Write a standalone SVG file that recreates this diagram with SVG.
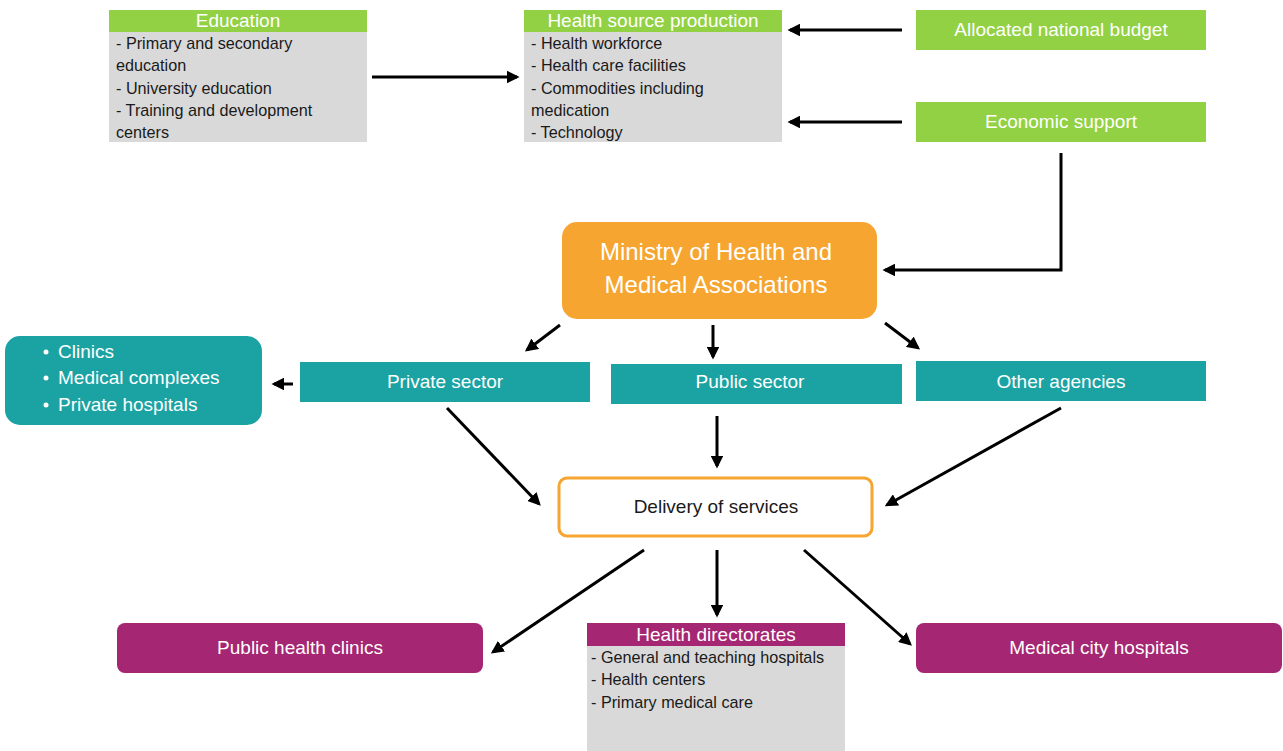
<svg xmlns="http://www.w3.org/2000/svg" width="1283" height="751" viewBox="0 0 1283 751">
<style>
text{font-family:"Liberation Sans",Arial,sans-serif}
.hd{fill:#fff;font-size:19px;text-anchor:middle}
.bd{fill:#1a1a1a;font-size:16.2px}
.wt{fill:#fff;font-size:19px;text-anchor:middle}
.green{fill:#92D143}
.gray{fill:#D9D9D9}
.teal{fill:#1BA3A3}
.mag{fill:#A52673}
.conn{stroke:#000;stroke-width:3;fill:none;marker-end:url(#ah)}
</style>
<defs>
<marker id="ah" viewBox="0 0 10 10" refX="8" refY="5" markerWidth="4.3" markerHeight="4.3" orient="auto" markerUnits="strokeWidth">
<path d="M0,0 L10,5 L0,10 z" fill="#000"/>
</marker>
</defs>
<rect width="1283" height="751" fill="#fff"/>

<g id="education">
<rect class="gray" x="109" y="32" width="258" height="110"/>
<rect class="green" x="109" y="10" width="258" height="22"/>
<text class="hd" x="238" y="27">Education</text>
<text class="bd" x="116" y="49">- Primary and secondary</text>
<text class="bd" x="116" y="71">education</text>
<text class="bd" x="116" y="94">- University education</text>
<text class="bd" x="116" y="116">- Training and development</text>
<text class="bd" x="116" y="138">centers</text>
</g>

<g id="health-source">
<rect class="gray" x="524" y="32" width="258" height="110"/>
<rect class="green" x="524" y="10" width="258" height="22"/>
<text class="hd" x="653" y="27">Health source production</text>
<text class="bd" x="531" y="49">- Health workforce</text>
<text class="bd" x="531" y="71">- Health care facilities</text>
<text class="bd" x="531" y="94">- Commodities including</text>
<text class="bd" x="531" y="116">medication</text>
<text class="bd" x="531" y="138">- Technology</text>
</g>

<g id="budget">
<rect class="green" x="916" y="10" width="290" height="40"/>
<text class="wt" x="1061" y="36">Allocated national budget</text>
</g>

<g id="economic">
<rect class="green" x="916" y="102" width="290" height="40"/>
<text class="wt" x="1061" y="128">Economic support</text>
</g>

<g id="ministry">
<rect x="562" y="222" width="315" height="97" rx="15" fill="#F6A531"/>
<text class="wt" style="font-size:24px" x="716" y="260">Ministry of Health and</text>
<text class="wt" style="font-size:24px" x="716" y="293">Medical Associations</text>
</g>

<g id="private-list">
<rect class="teal" x="5" y="336" width="257" height="89" rx="15"/>
<circle cx="46" cy="352" r="2.5" fill="#fff"/>
<circle cx="46" cy="378" r="2.5" fill="#fff"/>
<circle cx="46" cy="405" r="2.5" fill="#fff"/>
<text fill="#fff" font-size="19" x="58" y="358">Clinics</text>
<text fill="#fff" font-size="19" x="58" y="384">Medical complexes</text>
<text fill="#fff" font-size="19" x="58" y="411">Private hospitals</text>
</g>

<g id="private">
<rect class="teal" x="300" y="362" width="290" height="40"/>
<text class="wt" x="445" y="388">Private sector</text>
</g>

<g id="public">
<rect class="teal" x="611" y="364" width="291" height="40"/>
<text class="wt" x="750" y="388">Public sector</text>
</g>

<g id="other">
<rect class="teal" x="916" y="361" width="290" height="40"/>
<text class="wt" x="1061" y="388">Other agencies</text>
</g>

<g id="delivery">
<rect x="559" y="478" width="313" height="58" rx="8" fill="#fff" stroke="#F6A531" stroke-width="3"/>
<text fill="#1a1a1a" font-size="19" text-anchor="middle" x="716" y="513">Delivery of services</text>
</g>

<g id="public-clinics">
<rect class="mag" x="117" y="623" width="366" height="50" rx="8"/>
<text class="wt" x="300" y="654">Public health clinics</text>
</g>

<g id="directorates">
<rect class="gray" x="587" y="646" width="258" height="105"/>
<rect class="mag" x="587" y="623" width="258" height="23"/>
<text class="hd" x="716" y="641">Health directorates</text>
<text class="bd" x="591" y="663">- General and teaching hospitals</text>
<text class="bd" x="591" y="685">- Health centers</text>
<text class="bd" x="591" y="708">- Primary medical care</text>
</g>

<g id="medical-city">
<rect class="mag" x="916" y="623" width="366" height="50" rx="8"/>
<text class="wt" x="1099" y="654">Medical city hospitals</text>
</g>

<g id="connectors">
<line class="conn" x1="372" y1="77" x2="517" y2="77"/>
<line class="conn" x1="902" y1="30" x2="790" y2="30"/>
<line class="conn" x1="902" y1="122" x2="790" y2="122"/>
<polyline class="conn" points="1061,153 1061,270 885,270"/>
<line class="conn" x1="560" y1="325" x2="527" y2="350"/>
<line class="conn" x1="713" y1="325" x2="713" y2="357"/>
<line class="conn" x1="885" y1="323" x2="918" y2="348"/>
<line class="conn" x1="293" y1="384" x2="274" y2="384"/>
<line class="conn" x1="447" y1="408" x2="539" y2="504"/>
<line class="conn" x1="717" y1="416" x2="717" y2="466"/>
<line class="conn" x1="1061" y1="408" x2="887" y2="505"/>
<line class="conn" x1="644" y1="550" x2="493" y2="652"/>
<line class="conn" x1="717" y1="550" x2="717" y2="615"/>
<line class="conn" x1="804" y1="550" x2="910" y2="644"/>
</g>
</svg>
